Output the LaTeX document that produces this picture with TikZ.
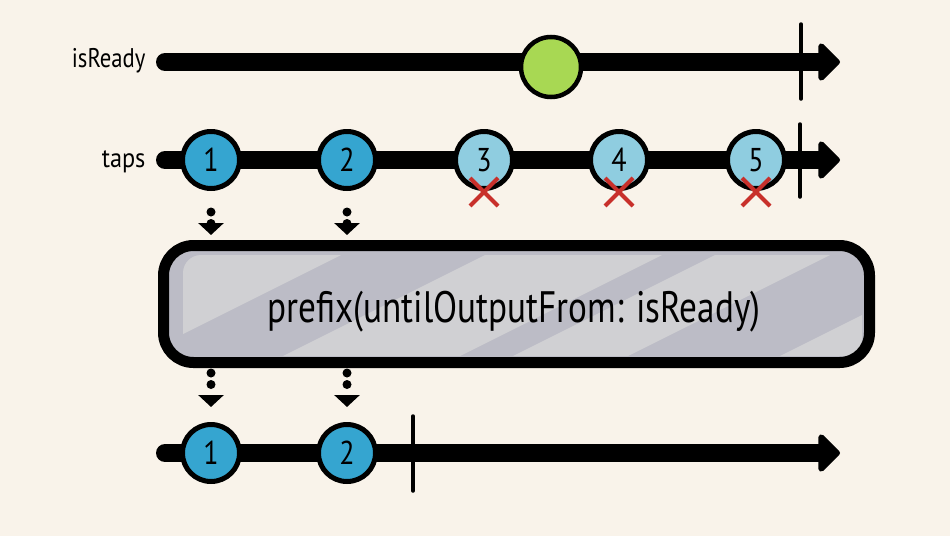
\documentclass[tikz,border=0pt]{standalone}
\usepackage{fontspec}
\setmainfont{PT Sans}
\usetikzlibrary{arrows.meta}
\definecolor{bg}{HTML}{F9F3EA}
\definecolor{readygreen}{HTML}{A8D853}
\definecolor{tapblue}{HTML}{35A5D0}
\definecolor{tapbluelight}{HTML}{8FCDE0}
\definecolor{crossred}{HTML}{C8302B}
\definecolor{boxgray}{HTML}{BCBCC6}
\definecolor{boxlight}{HTML}{D0D0D3}
\begin{document}
\begin{tikzpicture}[x=1pt,y=-1pt,
  timeline/.style={line width=18pt, line cap=round, -{Triangle[width=44pt,length=23pt,round]}},
  marble/.style={circle, draw=black, line width=5pt, minimum size=57pt, inner sep=0pt,
    font=\fontsize{33}{33}\selectfont},
  tickmark/.style={line width=3.5pt, line cap=round},
  crossmark/.style={draw=crossred, line width=4pt},
  dotarrow/.style={line width=9pt, line cap=round, dash pattern=on 0pt off 11.5pt,
    -{Triangle[width=25pt,length=12pt]}},
  streamlabel/.style={anchor=base east, font=\fontsize{27}{27}\selectfont},
  opbox/.style={draw=black, line width=11pt, rounded corners=30pt, minimum width=706pt,
    minimum height=117pt, inner sep=0pt}
]
\fill[bg] (0,0) rectangle (950,536);
\useasboundingbox (0,0) rectangle (950,536);

% ---- isReady stream
\node[streamlabel] (lready) at (149,67) {\scalebox{0.84}[1]{isReady}};
\coordinate (s1) at (165,62);
\coordinate (e1) at (840,62);
\draw[timeline] (s1) -- (e1);
\coordinate (k1a) at (801,24);
\coordinate (k1b) at (801,99);
\draw[tickmark] (k1a) -- (k1b);
\node[marble, fill=readygreen, minimum size=60pt, line width=4.5pt] (r1) at (551,67) {};

% ---- taps stream
\node[streamlabel] (ltaps) at (149,167) {\scalebox{0.9}[1]{taps}};
\coordinate (s2) at (165,160);
\coordinate (e2) at (840,160);
\draw[timeline] (s2) -- (e2);
\coordinate (k2a) at (800,124);
\coordinate (k2b) at (800,197);
\draw[tickmark] (k2a) -- (k2b);
\node[marble, fill=tapblue] (t1) at (211,160) {\scalebox{0.85}[1]{1}};
\node[marble, fill=tapblue] (t2) at (347,160) {\scalebox{0.85}[1]{2}};
\node[marble, fill=tapbluelight] (t3) at (484,160) {\scalebox{0.85}[1]{3}};
\node[marble, fill=tapbluelight] (t4) at (619,160) {\scalebox{0.85}[1]{4}};
\node[marble, fill=tapbluelight] (t5) at (756,160) {\scalebox{0.85}[1]{5}};
\foreach \n/\x in {x3/484, x4/619, x5/756} {
  \coordinate (\n) at (\x,192);
  \draw[crossmark] ([shift={(-14,-14)}]\n) -- ([shift={(14,14)}]\n);
  \draw[crossmark] ([shift={(-14,14)}]\n) -- ([shift={(14,-14)}]\n);
}

% ---- dotted arrows into the operator
\coordinate (a1s) at (211,212);
\coordinate (a1e) at (211,235);
\coordinate (a2s) at (347,212);
\coordinate (a2e) at (347,235);
\draw[dotarrow] (a1s) -- (a1e);
\draw[dotarrow] (a2s) -- (a2e);

% ---- operator box
\fill[boxgray, rounded corners=30pt] (163.5,245.5) rectangle (869.5,362.5);
\begin{scope}
  \clip[rounded corners=18pt] (183,255) rectangle (862,356);
  \foreach \a/\b in {-100/139, 283/460, 513/628, 780/1000} {
    \fill[boxlight] (\a-28,370) -- (\b-28,370) -- (\b+232,240) -- (\a+232,240) -- cycle;
  }
\end{scope}
\node[opbox] (op) at (516.5,304) {};
\node[anchor=base, font=\fontsize{44}{44}\selectfont] (optext) at (514,322)
  {\scalebox{0.80}[1]{prefix(untilOutputFrom: isReady)}};

% ---- dotted arrows out of the operator
\coordinate (b1s) at (211,373);
\coordinate (b1e) at (211,407);
\coordinate (b2s) at (347,373);
\coordinate (b2e) at (347,407);
\draw[dotarrow] (b1s) -- (b1e);
\draw[dotarrow] (b2s) -- (b2e);

% ---- output stream
\coordinate (s3) at (165,453);
\coordinate (e3) at (840,453);
\draw[timeline] (s3) -- (e3);
\coordinate (k3a) at (413,416);
\coordinate (k3b) at (413,491);
\draw[tickmark] (k3a) -- (k3b);
\node[marble, fill=tapblue] (o1) at (211,453) {\scalebox{0.85}[1]{1}};
\node[marble, fill=tapblue] (o2) at (347,453) {\scalebox{0.85}[1]{2}};
\end{tikzpicture}
\end{document}
